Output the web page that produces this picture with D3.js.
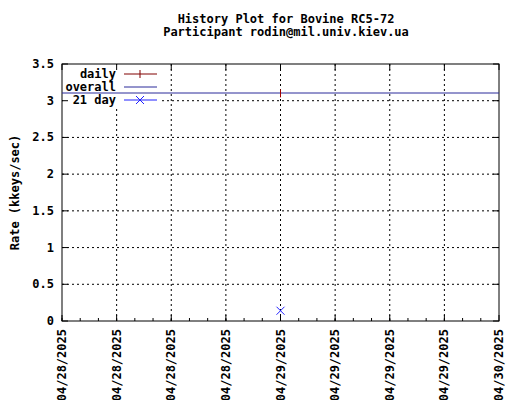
<!DOCTYPE html><html><head><script src="https://d3js.org/d3.v7.min.js"></script>
<style>body{margin:0;background:#fff}text{font-family:"DejaVu Sans Mono",monospace;font-weight:bold;font-size:12px}</style></head><body>
<script>
const titleLines=["History Plot for Bovine RC5-72","Participant rodin@mil.univ.kiev.ua"];
const yLabel="Rate (kkeys/sec)";
const xStart=new Date(2025,3,28,0), xEnd=new Date(2025,3,30,0);
const dailyDates=[new Date(2025,3,29,0)], dailyValues=[3.1];
const overallValue=3.105;
const day21Dates=[new Date(2025,3,29,0)], day21Values=[0.14];
const yTicks=[0,0.5,1,1.5,2,2.5,3,3.5];
const legendLabels=["daily","overall","21 day"];
const W=520,H=400,m={l:62,r:21,t:64,b:79};
const svg=d3.select("body").append("svg").attr("width",W).attr("height",H);
const x=d3.scaleTime().domain([xStart,xEnd]).range([m.l,W-m.r]);
const y=d3.scaleLinear().domain([0,3.5]).range([H-m.b,m.t]);
const fmt=d3.timeFormat("%m/%d/%Y");
const xt=d3.timeHour.every(6).range(xStart,new Date(+xEnd+1));
const xm=d3.timeHour.every(2).range(xStart,xEnd);
const g=svg.append("g");
g.selectAll(".gx").data(xt.slice(1,-1)).join("line").attr("x1",d=>x(d)).attr("x2",d=>x(d)).attr("y1",m.t).attr("y2",H-m.b).attr("stroke","#000").attr("stroke-dasharray","2,3");
g.selectAll(".gy").data(yTicks.slice(1,-1)).join("line").attr("x1",m.l).attr("x2",W-m.r).attr("y1",d=>y(d)).attr("y2",d=>y(d)).attr("stroke","#000").attr("stroke-dasharray","2,3");
// legend background
g.append("rect").attr("x",m.l+1).attr("y",m.t+1).attr("width",98).attr("height",42).attr("fill","#fff");
g.append("rect").attr("x",m.l).attr("y",m.t).attr("width",W-m.l-m.r).attr("height",H-m.t-m.b).attr("fill","none").attr("stroke","#000");
g.selectAll(".ty").data(yTicks).join("g").each(function(d){const s=d3.select(this);
 s.append("line").attr("x1",m.l).attr("x2",m.l+6).attr("y1",y(d)).attr("y2",y(d)).attr("stroke","#000");
 s.append("line").attr("x1",W-m.r).attr("x2",W-m.r-6).attr("y1",y(d)).attr("y2",y(d)).attr("stroke","#000");
 s.append("text").attr("x",m.l-8).attr("y",y(d)+4).attr("text-anchor","end").text(d);});
g.selectAll(".tm").data(xm).join("line").attr("x1",d=>x(d)).attr("x2",d=>x(d)).attr("y1",H-m.b).attr("y2",H-m.b-3).attr("stroke","#000");
g.selectAll(".tx").data(xt).join("g").each(function(d){const s=d3.select(this);
 s.append("line").attr("x1",x(d)).attr("x2",x(d)).attr("y1",H-m.b).attr("y2",H-m.b-6).attr("stroke","#000");
 s.append("line").attr("x1",x(d)).attr("x2",x(d)).attr("y1",m.t).attr("y2",m.t+6).attr("stroke","#000");
 s.append("text").attr("transform",`translate(${x(d)+4},${H-m.b+8}) rotate(-90)`).attr("text-anchor","end").text(fmt(d));});
titleLines.forEach((t,i)=>svg.append("text").attr("x",286).attr("y",23+i*13).attr("text-anchor","middle").text(t));
svg.append("text").attr("transform",`translate(19,${(m.t+H-m.b)/2}) rotate(-90)`).attr("text-anchor","middle").text(yLabel);
g.append("line").attr("x1",m.l).attr("x2",W-m.r).attr("y1",y(overallValue)).attr("y2",y(overallValue)).attr("stroke","#2a2a9a");
dailyDates.forEach((d,i)=>g.append("line").attr("x1",x(d)).attr("x2",x(d)).attr("y1",y(dailyValues[i])-4).attr("y2",y(dailyValues[i])+4).attr("stroke","#a00000"));
day21Dates.forEach((d,i)=>{const cx=x(d),cy=y(day21Values[i]);
 g.append("path").attr("d",`M${cx-4},${cy-4}L${cx+4},${cy+4}M${cx-4},${cy+4}L${cx+4},${cy-4}`).attr("stroke","#2020ff");});
const ly=[74,87,100];
legendLabels.forEach((t,i)=>svg.append("text").attr("x",116).attr("y",ly[i]+4).attr("text-anchor","end").text(t));
svg.append("line").attr("x1",124).attr("x2",157).attr("y1",ly[0]).attr("y2",ly[0]).attr("stroke","#800000");
svg.append("line").attr("x1",140).attr("x2",140).attr("y1",ly[0]-4).attr("y2",ly[0]+4).attr("stroke","#800000");
svg.append("line").attr("x1",124).attr("x2",157).attr("y1",ly[1]).attr("y2",ly[1]).attr("stroke","#2a2a9a");
svg.append("line").attr("x1",124).attr("x2",157).attr("y1",ly[2]).attr("y2",ly[2]).attr("stroke","#2020ff");
svg.append("path").attr("d",`M136,96L144,104M136,104L144,96`).attr("stroke","#2020ff");
</script></body></html>
